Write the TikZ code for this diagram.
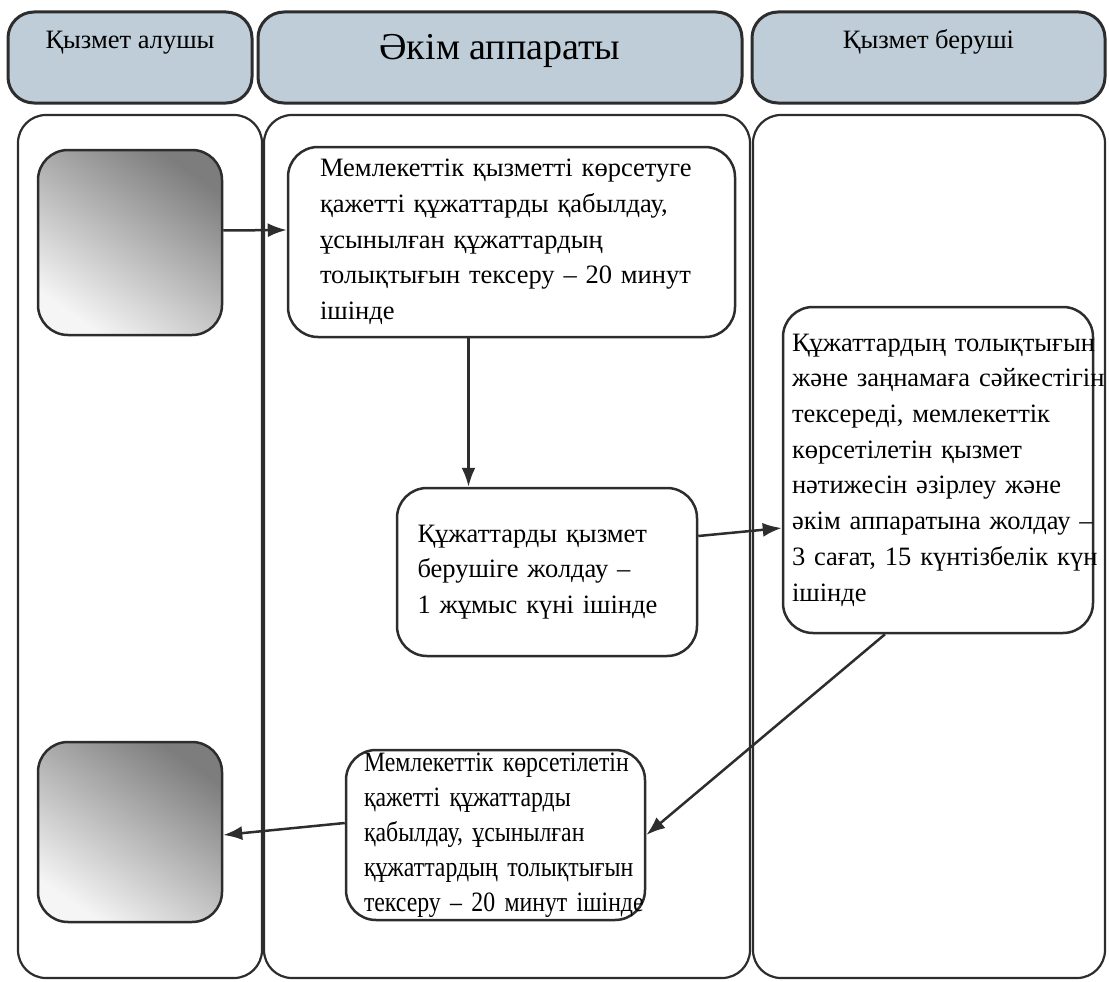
\documentclass[tikz,border=0pt]{standalone}
\usepackage{fontspec}
\setmainfont{Liberation Serif}
\newfontfamily\narrowserif[FakeStretch=0.85]{Liberation Serif}
\definecolor{HeadBlue} {RGB}{190,205,215}
\definecolor{EdgeDark} {RGB}{45,45,45}
\definecolor{ShadeDark}{RGB}{125,125,125}
\definecolor{ShadeLite}{RGB}{245,245,245}
\usetikzlibrary{arrows.meta,positioning}

\begin{document}
\begin{tikzpicture}[x=1pt,y=-1pt,
  lane/.style={draw=EdgeDark,line width=2.2pt,rounded corners=28pt,
               inner sep=0pt,minimum height=863pt},
  head/.style={draw=EdgeDark,fill=HeadBlue,line width=3pt,rounded corners=26pt,
               inner sep=0pt,minimum height=91pt,text height=18pt,text depth=35pt,
               font=\fontsize{26.5}{30}\selectfont},
  grey/.style={draw=EdgeDark,line width=2.5pt,rounded corners=30pt,
               shading=axis,top color=ShadeDark,bottom color=ShadeLite,shading angle=-35,
               minimum width=184pt},
  step box/.style={draw=EdgeDark,fill=white,line width=2.5pt,rounded corners=30pt,
               inner sep=0pt,align=left,font=\fontsize{26.5}{35.7}\selectfont},
  arr/.style={-{Latex[length=19pt,width=14pt]},EdgeDark,line width=2.5pt}]
  \useasboundingbox (0,0) rectangle (1109,982);
  \node[lane,minimum width=244pt](L1) at (140,546.5){};
  \node[lane,minimum width=486pt](L2) at (507,546.5){};
  \node[lane,minimum width=352pt](L3) at (929,546.5){};
  \node[head,minimum width=244pt](H1) at (130,57.5){Қызмет алушы};
  \node[head,minimum width=484pt,text height=26pt,text depth=22pt,
        font=\fontsize{38}{42}\selectfont](H2) at (500,57.5){Әкім аппараты};
  \node[head,minimum width=353pt](H3) at (928.5,57.5){Қызмет беруші};
  \node[grey,minimum height=185pt](G1) at (130,242.5){};
  \node[grey,minimum height=180pt](G2) at (130,832){};
  \node[step box,minimum width=447pt,minimum height=190pt,
        text width=383pt,inner xsep=32pt](A) at (511.5,242)
       {Мемлекеттік қызметті көрсетуге\\қажетті құжаттарды қабылдау,\\ұсынылған құжаттардың\\толықтығын тексеру – 20 минут\\ішінде};
  \node[step box,minimum width=300pt,minimum height=168pt,
        text width=259pt,inner xsep=20.5pt](B) at (547,572)
       {Құжаттарды қызмет\\берушіге жолдау –\\1 жұмыс күні ішінде};
  \node[step box,minimum width=310pt,minimum height=326pt,
        text width=292pt,inner xsep=9pt](C) at (938,470)
       {\mbox{Құжаттардың толықтығын}\\\mbox{және заңнамаға сәйкестігін}\\тексереді, мемлекеттік\\көрсетілетін қызмет\\нәтижесін әзірлеу және\\\mbox{әкім аппаратына жолдау –}\\\mbox{3 сағат, 15 күнтізбелік күн}\\ішінде};
  \node[step box,minimum width=299pt,minimum height=170pt,
        text width=263pt,inner xsep=18pt,
        font=\narrowserif\fontsize{28}{35}\selectfont](D) at (495.5,835)
       {\mbox{Мемлекеттік көрсетілетін}\\қажетті құжаттарды\\қабылдау, ұсынылған\\\mbox{құжаттардың толықтығын}\\\mbox{тексеру – 20 минут ішінде}};
  \draw[arr]([yshift=12pt]G1.east)--([yshift=12pt]A.west);
  \draw[arr]([xshift=-43pt]A.south)--([xshift=-43pt]A.south |- B.north);
  \draw[arr]([yshift=36pt]B.east)--([yshift=-58pt]C.west);
  \draw[arr]([xshift=-53pt]C.south)--(D.east);
  \draw[arr]([yshift=12pt]D.west)--([yshift=-3pt]G2.east);
\end{tikzpicture}
\end{document}
